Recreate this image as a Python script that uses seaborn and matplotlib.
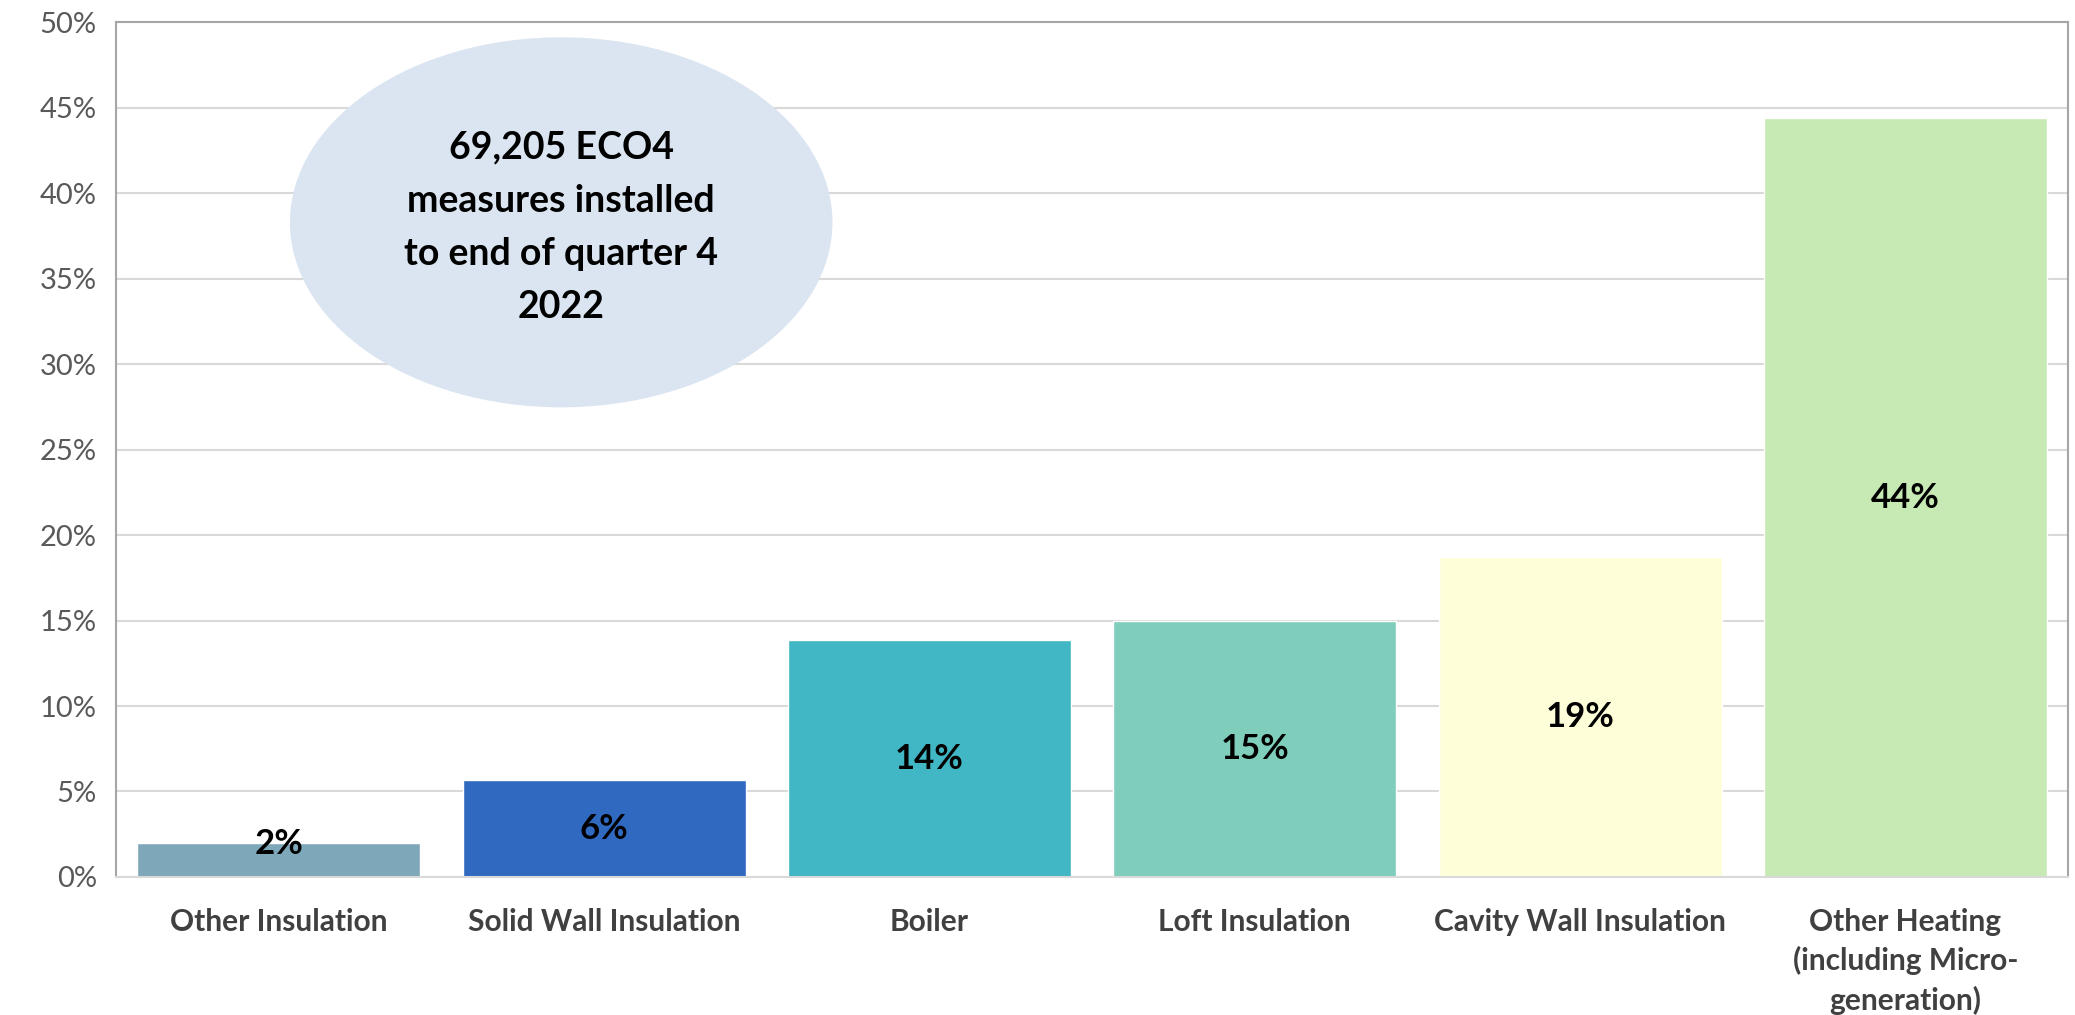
import numpy as np
import matplotlib.pyplot as plt
from matplotlib.patches import Ellipse
import seaborn as sns
import pandas as pd

# --- Data ---
measures = ['Other Insulation', 'Solid Wall Insulation', 'Boiler', 'Loft Insulation',
            'Cavity Wall Insulation', 'Other Heating\n(including Micro-\ngeneration)']
share = [2.0, 5.65, 13.85, 15.0, 18.7, 44.4]
share_labels = ['2%', '6%', '14%', '15%', '19%', '44%']
bar_colors = ['#7fa7ba', '#3069c0', '#41b6c4', '#7fcdbb', '#fefed9', '#c7e9b4']
callout_text = '69,205 ECO4\nmeasures installed\nto end of quarter 4\n2022'

df = pd.DataFrame({'measure': measures, 'share': share})

# --- Style ---
sns.set_theme(style='white')
plt.rcParams['font.family'] = ['Lato', 'DejaVu Sans']

fig = plt.figure(figsize=(20.75, 10.15), dpi=100)
ax = fig.add_axes([0.056, 0.136, 0.9406, 0.842])

sns.barplot(data=df, x='measure', y='share', hue='measure', palette=bar_colors,
            width=0.87, legend=False, saturation=1, ax=ax)

ax.set_xlim(-0.5, len(measures) - 0.5)
ax.set_ylim(0, 50)
ax.set_yticks(np.arange(0, 51, 5))
ax.set_yticklabels([f'{t}%' for t in range(0, 51, 5)], fontsize=21, color='#595959')
ax.tick_params(axis='x', labelsize=21.5, labelcolor='#404040', pad=22, length=0)
ax.tick_params(axis='y', pad=14, length=0)
for lbl in ax.get_xticklabels():
    lbl.set_fontweight('bold')
    lbl.set_linespacing(1.45)
ax.set_xlabel('')
ax.set_ylabel('')
ax.yaxis.grid(True, color='#d9d9d9', linewidth=1.5)
ax.set_axisbelow(True)
for side in ['left', 'right', 'top', 'bottom']:
    ax.spines[side].set_color('#a6a6a6')
    ax.spines[side].set_linewidth(1.5)
ax.spines['bottom'].set_color('#d9d9d9')

# --- Value labels ---
for i, (v, txt) in enumerate(zip(share, share_labels)):
    ax.text(i, max(v / 2, 1.9), txt, ha='center', va='center',
            fontsize=25, fontweight='bold', color='black')

# --- Callout ---
ell = Ellipse((0.228, 0.766), width=0.278, height=0.433, transform=ax.transAxes,
              facecolor='#dbe5f1', edgecolor='none', zorder=3)
ax.add_patch(ell)
ax.text(0.228, 0.760, callout_text, transform=ax.transAxes, ha='center', va='center',
        fontsize=27, fontweight='bold', color='black', linespacing=1.68, zorder=4)

fig.savefig('out.png', dpi=100)
